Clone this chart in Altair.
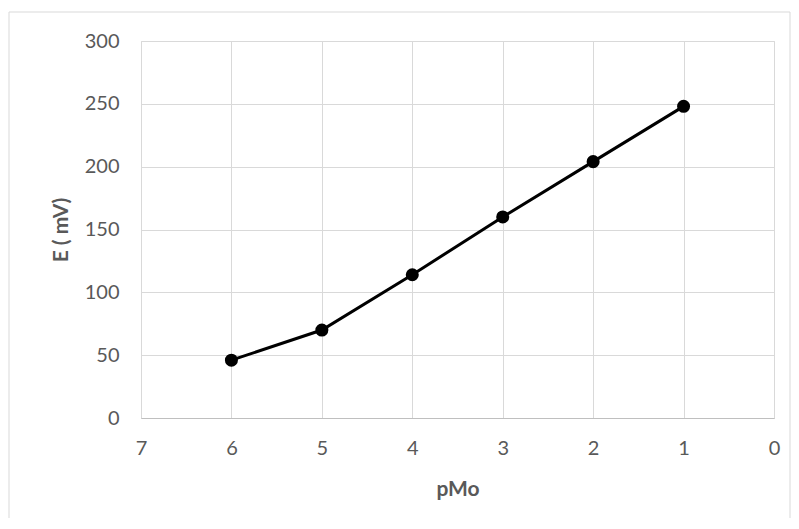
import altair as alt
import pandas as pd

pmo = [6, 5, 4, 3, 2, 1]
e_mv = [46, 70, 114, 160, 204, 248]
x_ticks = [7, 6, 5, 4, 3, 2, 1, 0]
y_ticks = [0, 50, 100, 150, 200, 250, 300]

df = pd.DataFrame({"pMo": pmo, "E": e_mv})

FONT = "Lato"
LABEL_COLOR = "#595959"

x_enc = alt.X("pMo:Q",
              scale=alt.Scale(domain=[7, 0], nice=False, zero=False),
              axis=alt.Axis(values=x_ticks, format="d", title="pMo", grid=True, gridColor="#d9d9d9",
                            domainColor="#bfbfbf", domainWidth=1, ticks=False,
                            labelPadding=20, labelFontSize=20, labelColor=LABEL_COLOR,
                            labelFont=FONT, titleFont=FONT, titleFontSize=21,
                            titleFontWeight="bold", titleColor=LABEL_COLOR,
                            titleBaseline="middle", titleY=71, labelFlush=False))
y_enc = alt.Y("E:Q",
              scale=alt.Scale(domain=[0, 300], nice=False),
              axis=alt.Axis(values=y_ticks, format="d", title="E ( mV)", grid=True, gridColor="#d9d9d9",
                            domain=False, ticks=False,
                            labelPadding=22, labelFontSize=20, labelColor=LABEL_COLOR,
                            labelFont=FONT, titleFont=FONT, titleFontSize=21,
                            titleFontWeight="bold", titleColor=LABEL_COLOR,
                            titleBaseline="middle", titleX=-80, titleY=188.5,
                            titleAngle=270, labelFlush=False))

border = alt.Chart(pd.DataFrame({"a": [0]})).mark_rect(
    fill=None, stroke="#d9d9d9", strokeWidth=1
).encode(x=alt.value(-132), x2=alt.value(649), y=alt.value(-29), y2=alt.value(479))

line = alt.Chart(df).mark_line(color="black", strokeWidth=3).encode(x=x_enc, y=y_enc)
pts = alt.Chart(df).mark_point(filled=True, color="black", size=170, opacity=1).encode(x="pMo:Q", y="E:Q")

chart = alt.layer(border, line, pts).properties(
    width=633, height=377,
    autosize=alt.AutoSizeParams(type="none"),
    padding={"left": 133, "top": 33, "right": 17, "bottom": 100},
).configure_view(stroke=None).configure(background="white")

chart.save("out.html", embed_options={"renderer": "svg", "actions": False})
